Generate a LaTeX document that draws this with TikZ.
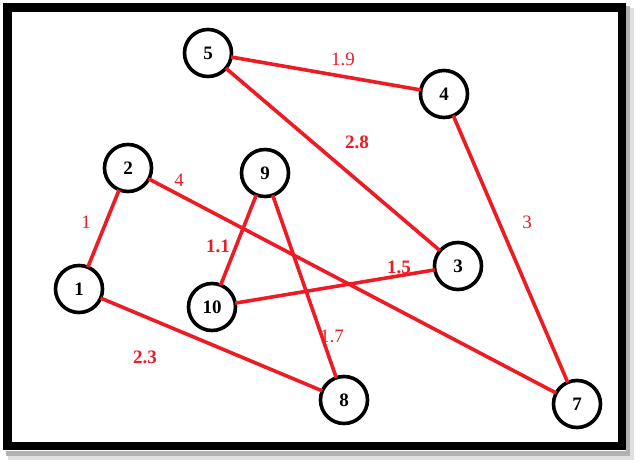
\documentclass[tikz,border=0pt]{standalone}
\usepackage{fontspec}
\setmainfont{Liberation Serif}
\usepackage{tkz-graph}
\definecolor{paintred}{RGB}{237,28,36}

\begin{document}
\begin{tikzpicture}[x=0.025cm, y=-0.025cm,
    wlabel/.style={text=paintred, inner sep=0pt, font=\fontsize{13.5}{15}\selectfont},
    wlabelb/.style={wlabel, font=\fontsize{13.5}{15}\selectfont\bfseries}]
    \useasboundingbox (0,0) rectangle (640,464);
    % frame and its shadow
    \fill[black!12] (8,8) rectangle (634,460);
    \fill[black!30] (6,6) rectangle (630,456);
    \fill[white] (3,3) rectangle (626,451);
    \draw[line width=0.21cm] (7.5,7.5) rectangle (622,446);

    \GraphInit[vstyle=normal]
    \tikzset{VertexStyle/.style={draw, circle, fill=white, inner sep=0pt,
        line width=0.09cm, minimum size=1.175cm,
        font=\fontsize{13.5}{15}\selectfont\bfseries}}
    \tikzset{EdgeStyle/.style={paintred, line width=0.09cm}}
    \Vertex[x=208,y=53]{5}
    \Vertex[x=444,y=94]{4}
    \Vertex[x=128,y=168]{2}
    \Vertex[x=265,y=173]{9}
    \Vertex[x=79,y=289]{1}
    \Vertex[x=212,y=307]{10}
    \Vertex[x=458,y=266]{3}
    \Vertex[x=344,y=400]{8}
    \Vertex[x=577,y=404]{7}

    \Edge(5)(4)
    \Edge(5)(3)
    \Edge(4)(7)
    \Edge(2)(1)
    \Edge(2)(7)
    \Edge(9)(10)
    \Edge(9)(8)
    \Edge(10)(3)
    \Edge(1)(8)

    % weights
    \node[wlabel]  (w54)  at (343,59)  {1.9};
    \node[wlabelb] (w53)  at (357,142) {2.8};
    \node[wlabel]  (w47)  at (527,222) {3};
    \node[wlabel]  (w27)  at (179,180) {4};
    \node[wlabel]  (w21)  at (86,222)  {1};
    \node[wlabelb] (w910) at (218,246) {1.1};
    \node[wlabelb] (w103) at (399,267) {1.5};
    \node[wlabel]  (w98)  at (332,336) {1.7};
    \node[wlabelb] (w18)  at (145,357) {2.3};
  \end{tikzpicture}
\end{document}
